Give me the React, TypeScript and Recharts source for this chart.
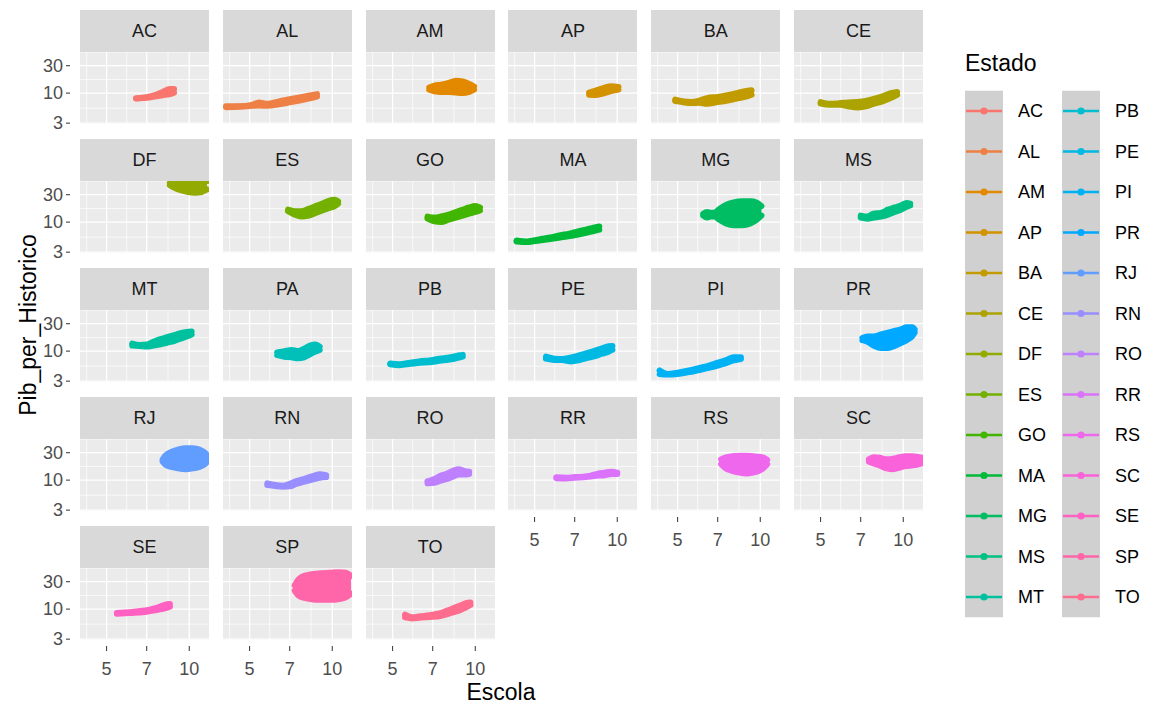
import { Area, ComposedChart, ReferenceLine, XAxis, YAxis } from "recharts";

// each point: [Escola, Pib_per_Historico lower edge, upper edge]
type Pt = [number, number, number];

const STATES = [
  "AC", "AL", "AM", "AP", "BA", "CE", "DF", "ES", "GO", "MA", "MG", "MS", "MT", "PA",
  "PB", "PE", "PI", "PR", "RJ", "RN", "RO", "RR", "RS", "SC", "SE", "SP", "TO",
];
const LEGEND_COL1 = ["AC", "AL", "AM", "AP", "BA", "CE", "DF", "ES", "GO", "MA", "MG", "MS", "MT"];
const LEGEND_COL2 = ["PB", "PE", "PI", "PR", "RJ", "RN", "RO", "RR", "RS", "SC", "SE", "SP", "TO"];

const X_TICKS = [5, 7, 10];
const Y_TICKS = [3, 10, 30];
const X_MINOR = [4.23, 5.92, 8.37];
const Y_MINOR = [5.48, 17.3, 51.9];
const X_DOMAIN: [number, number] = [4, 11.8];
const Y_DOMAIN: [number, number] = [2.9, 52];

const AC: Pt[] = [[6.4, 8.1, 8.1], [7.0, 8.3, 8.5], [7.6, 8.8, 9.4], [8.0, 9.2, 10.5], [8.5, 9.6, 11.8], [8.8, 10.2, 11.8]];
const AL: Pt[] = [[4.1, 5.7, 5.9], [4.6, 5.8, 5.9], [5.1, 6.0, 6.2], [5.4, 6.1, 6.9], [5.8, 6.0, 6.5], [6.4, 6.4, 7.2], [7.0, 6.9, 7.8], [7.6, 7.4, 8.4], [8.2, 8.0, 9.0], [8.8, 8.7, 9.6]];
const AM: Pt[] = [[6.8, 11.5, 12.5], [7.1, 10.8, 13.5], [7.5, 10.5, 14], [8.0, 10.5, 15], [8.5, 10.2, 16.5], [9.0, 10.0, 16], [9.5, 10.5, 14.5], [9.9, 11.5, 13]];
const AP: Pt[] = [[7.9, 9.4, 10.2], [8.4, 9.3, 11.2], [9.0, 10.0, 12.5], [9.5, 10.8, 13.2], [10.1, 11.5, 12.8]];
const BA: Pt[] = [[4.9, 7.3, 7.7], [5.2, 7.0, 7.2], [5.6, 6.7, 7.0], [6.0, 6.8, 7.4], [6.4, 6.5, 8.2], [7.0, 7.0, 8.6], [7.6, 7.4, 9.2], [8.2, 8.0, 10.0], [8.8, 8.6, 10.8], [9.3, 9.4, 11.2]];
const CE: Pt[] = [[5.0, 6.6, 7.0], [5.4, 6.3, 6.5], [5.9, 6.3, 6.7], [6.3, 5.9, 6.9], [6.8, 5.6, 7.0], [7.3, 5.9, 7.3], [7.8, 6.5, 7.9], [8.4, 7.2, 8.8], [9.0, 8.2, 10.0], [9.5, 9.3, 10.5]];
const DF: Pt[] = [[8.5, 44, 48], [8.8, 40, 52], [9.3, 36, 54], [9.9, 33.5, 54], [10.5, 32.5, 54], [11.1, 33.5, 54], [11.6, 37, 52]];
const ES: Pt[] = [[6.9, 15.5, 16.5], [7.3, 13.5, 15.5], [7.7, 12.5, 15.5], [8.2, 13.0, 17.0], [8.7, 14.5, 19.0], [9.2, 16.0, 21.0], [9.7, 17.5, 23.5], [10.2, 19.0, 24.5], [10.5, 21.0, 23.0]];
const GO: Pt[] = [[6.7, 11.5, 12.5], [7.1, 10.3, 12.0], [7.5, 10.0, 12.5], [8.0, 11.0, 13.5], [8.5, 12.0, 15.0], [9.0, 13.0, 16.5], [9.5, 14.0, 18.0], [10.0, 15.0, 19.0], [10.4, 16.0, 18.0]];
const MA: Pt[] = [[4.3, 4.6, 4.8], [4.7, 4.5, 4.6], [5.2, 4.8, 5.0], [5.7, 5.1, 5.4], [6.2, 5.4, 5.9], [6.7, 5.7, 6.3], [7.2, 6.1, 6.9], [7.7, 6.5, 7.4], [8.2, 7.0, 8.0], [8.6, 7.4, 8.4]];
const MG: Pt[] = [[6.2, 13, 14], [6.4, 12, 15], [6.6, 12.5, 14.5], [6.8, 12.5, 14.5], [7.1, 11, 17], [7.5, 9.5, 20], [8.0, 8.8, 22], [8.6, 8.8, 23], [9.2, 9.5, 23], [9.7, 11, 22], [10.1, 13, 19]];
const MS: Pt[] = [[7.0, 12.0, 13.0], [7.4, 11.5, 12.5], [7.8, 12.0, 14.0], [8.3, 12.5, 14.5], [8.8, 13.5, 16.5], [9.3, 15.0, 18.0], [9.8, 16.5, 19.5], [10.3, 18.5, 21.5], [10.6, 19.5, 21.0]];
const MT: Pt[] = [[6.2, 12.5, 13.5], [6.6, 12.3, 12.8], [7.0, 12.0, 13.0], [7.4, 12.5, 14.5], [7.8, 13.0, 16.0], [8.3, 14.0, 17.5], [8.8, 15.0, 19.0], [9.3, 16.5, 20.5], [9.8, 18.0, 21.5], [10.2, 19.5, 22.0]];
const PA: Pt[] = [[6.3, 8.5, 9.5], [6.7, 8.0, 10.0], [7.1, 7.8, 10.5], [7.5, 7.5, 10.0], [7.9, 7.8, 11.0], [8.3, 8.8, 12.5], [8.7, 9.8, 13.0], [9.0, 10.5, 12.0]];
const PB: Pt[] = [[4.9, 5.9, 6.1], [5.3, 5.7, 5.9], [5.8, 6.0, 6.3], [6.3, 6.3, 6.7], [6.8, 6.4, 6.9], [7.3, 6.7, 7.3], [7.8, 7.0, 7.6], [8.3, 7.3, 8.0], [8.8, 7.8, 8.5], [9.0, 8.0, 8.6]];
const PE: Pt[] = [[5.5, 7.4, 8.0], [5.9, 7.0, 7.4], [6.3, 7.0, 7.3], [6.8, 6.6, 7.8], [7.3, 7.0, 8.5], [7.8, 7.6, 9.3], [8.3, 8.2, 10.2], [8.8, 9.0, 11.2], [9.3, 9.8, 12.2], [9.6, 10.5, 12.3]];
const PI: Pt[] = [[4.3, 4.0, 4.6], [4.6, 3.9, 4.0], [5.0, 4.0, 4.2], [5.5, 4.3, 4.6], [6.0, 4.7, 5.1], [6.5, 5.1, 5.6], [7.0, 5.6, 6.3], [7.5, 6.2, 7.0], [8.0, 6.9, 7.8], [8.5, 7.3, 7.8]];
const PR: Pt[] = [[7.1, 15.5, 17], [7.4, 14.5, 18], [7.8, 12.5, 18], [8.3, 11.3, 19.5], [8.8, 11.3, 21], [9.3, 12.3, 22.5], [9.8, 13.8, 24], [10.3, 15.5, 26], [10.8, 18.5, 26], [11.0, 21, 24]];
const RJ: Pt[] = [[8.0, 21, 23], [8.2, 18.5, 27], [8.6, 17, 31], [9.1, 16, 34], [9.7, 15.5, 36], [10.3, 16, 36], [10.9, 17, 34], [11.4, 19, 30], [11.7, 21.5, 26]];
const RN: Pt[] = [[5.8, 8.2, 8.8], [6.2, 7.9, 8.2], [6.6, 7.7, 8.0], [7.0, 7.8, 8.6], [7.4, 8.6, 9.6], [7.8, 9.2, 10.3], [8.2, 9.8, 11.2], [8.6, 10.4, 12.0], [9.0, 11.0, 12.6], [9.5, 11.3, 12.2]];
const RO: Pt[] = [[6.7, 8.8, 9.5], [7.1, 9.0, 10.5], [7.5, 9.8, 12.0], [7.9, 10.5, 13.0], [8.3, 11.5, 14.5], [8.7, 12.5, 15.5], [9.1, 12.5, 14.5], [9.5, 12.8, 14.0]];
const RR: Pt[] = [[6.0, 10.8, 11.2], [6.5, 10.7, 11.0], [7.0, 11.0, 11.3], [7.5, 11.2, 11.5], [8.0, 11.5, 12.0], [8.5, 12.0, 13.0], [9.0, 12.2, 13.5], [9.5, 12.8, 14.0], [10.0, 12.8, 13.5]];
const RS: Pt[] = [[7.2, 19, 23], [7.5, 16, 25], [7.9, 14.5, 26], [8.4, 13.5, 26.5], [8.9, 13, 26.5], [9.4, 13.5, 26], [9.9, 14.5, 25.5], [10.3, 16.5, 24.5], [10.6, 19, 22.5]];
const SC: Pt[] = [[7.5, 21, 23], [7.8, 19.5, 25], [8.2, 18, 24.5], [8.7, 16, 23], [9.2, 15.5, 23.5], [9.7, 16.5, 25], [10.2, 17.5, 26], [10.7, 18, 26], [11.2, 18.5, 25.5], [11.7, 19.5, 24.5]];
const SE: Pt[] = [[5.45, 8.3, 8.6], [5.8, 8.5, 8.7], [6.2, 8.6, 8.9], [6.6, 8.7, 9.3], [7.0, 9.0, 9.6], [7.4, 9.4, 10.2], [7.8, 9.9, 11.0], [8.2, 10.4, 12.0], [8.5, 11.0, 12.3]];
const SP: Pt[] = [[7.3, 21, 26], [7.5, 17.5, 32], [7.8, 16, 37], [8.3, 15, 40], [9.0, 14.5, 42], [9.8, 14.5, 43], [10.6, 15, 44], [11.2, 16, 43], [11.7, 18.5, 38]];
const TO: Pt[] = [[5.55, 7.2, 8.0], [5.9, 6.9, 7.2], [6.3, 7.1, 7.5], [6.8, 7.3, 7.8], [7.3, 7.4, 8.3], [7.8, 8.0, 9.2], [8.3, 8.8, 10.3], [8.8, 9.6, 11.5], [9.3, 10.8, 12.8], [9.6, 11.8, 13.0]];

const SERIES: Record<string, Pt[]> = {
  AC, AL, AM, AP, BA, CE, DF, ES, GO, MA, MG, MS, MT, PA,
  PB, PE, PI, PR, RJ, RN, RO, RR, RS, SC, SE, SP, TO,
};

const FONT = "'Liberation Sans', Arial, sans-serif";
const PANEL_X0 = 80;
const PITCH_X = 142.8;
const PANEL_W = 129;
const PANEL_Y0 = 10;
const PITCH_Y = 129;
const STRIP_H = 42;
const PLOT_H = 72;

// ggplot2 default hue palette (hcl, c = 100, l = 65)
function hcl(h: number, c = 100, l = 65) {
  const hr = (h * Math.PI) / 180;
  const u = c * Math.cos(hr);
  const v = c * Math.sin(hr);
  const Xn = 95.047, Yn = 100, Zn = 108.883;
  const d = Xn + 15 * Yn + 3 * Zn;
  const un = (4 * Xn) / d;
  const vn = (9 * Yn) / d;
  const Y = Yn * Math.pow((l + 16) / 116, 3);
  const up = u / (13 * l) + un;
  const vp = v / (13 * l) + vn;
  const X = (Y * 9 * up) / (4 * vp);
  const Z = (Y * (12 - 3 * up - 20 * vp)) / (4 * vp);
  const x = X / 100, y = Y / 100, z = Z / 100;
  const lin = [
    3.240479 * x - 1.53715 * y - 0.498535 * z,
    -0.969256 * x + 1.875992 * y + 0.041556 * z,
    0.055648 * x - 0.204043 * y + 1.057311 * z,
  ];
  const hex = lin
    .map((c0) => {
      const g = c0 <= 0.0031308 ? 12.92 * c0 : 1.055 * Math.pow(c0, 1 / 2.4) - 0.055;
      const n = Math.round(Math.min(1, Math.max(0, g)) * 255);
      return n.toString(16).padStart(2, "0");
    })
    .join("");
  return `#${hex}`;
}

const COLORS = STATES.map((_, i) => hcl(15 + (360 * i) / STATES.length));
const colorOf = (s: string) => COLORS[STATES.indexOf(s)];

const YTick = (p: any) => (
  <g>
    <line x1={p.x - 14} x2={p.x - 10} y1={p.y} y2={p.y} stroke="#333333" strokeWidth={1} />
    <text x={p.x - 17} y={p.y} textAnchor="end" dominantBaseline="central" fontSize={18} fill="#4D4D4D" fontFamily={FONT}>
      {p.payload.value}
    </text>
  </g>
);

const XTick = (p: any) => (
  <g>
    <line x1={p.x} x2={p.x} y1={p.y + 6} y2={p.y + 11} stroke="#333333" strokeWidth={1} />
    <text x={p.x} y={p.y + 29} textAnchor="middle" dominantBaseline="central" fontSize={18} fill="#4D4D4D" fontFamily={FONT}>
      {p.payload.value}
    </text>
  </g>
);

// one layer of a facet: "grid" draws the panel grid, "data" the state's band and the axis ticks
function Layer({
  layer, data, color, showX, showY,
}: {
  layer: "grid" | "data";
  data: { x: number; band: number[] }[];
  color: string;
  showX: boolean;
  showY: boolean;
}) {
  const yw = showY ? 50 : 0;
  const xh = showX ? 42 : 0;
  const pad = showY && !showX ? 12 : 0;
  const isData = layer === "data";
  return (
    <ComposedChart
      width={PANEL_W + yw}
      height={PLOT_H + xh + pad}
      data={data}
      margin={{ top: 0, right: 0, bottom: pad, left: 0 }}
    >
      <XAxis
        type="number"
        dataKey="x"
        scale="log"
        domain={X_DOMAIN}
        ticks={X_TICKS}
        interval={0}
        allowDataOverflow
        hide={!showX}
        height={xh}
        axisLine={false}
        tickLine={false}
        tickSize={0}
        tickMargin={0}
        tick={isData ? XTick : false}
      />
      <YAxis
        type="number"
        scale="log"
        domain={Y_DOMAIN}
        ticks={Y_TICKS}
        interval={0}
        allowDataOverflow
        hide={!showY}
        width={yw}
        axisLine={false}
        tickLine={false}
        tickSize={0}
        tickMargin={0}
        tick={isData ? YTick : false}
      />
      {!isData &&
        X_MINOR.map((v) => <ReferenceLine key={`xm${v}`} x={v} stroke="#FFFFFF" strokeWidth={0.7} />)}
      {!isData &&
        Y_MINOR.map((v) => <ReferenceLine key={`ym${v}`} y={v} stroke="#FFFFFF" strokeWidth={0.7} />)}
      {!isData &&
        X_TICKS.map((v) => <ReferenceLine key={`x${v}`} x={v} stroke="#FFFFFF" strokeWidth={1.3} />)}
      {!isData &&
        Y_TICKS.map((v) => <ReferenceLine key={`y${v}`} y={v} stroke="#FFFFFF" strokeWidth={1.3} />)}
      <Area
        type="monotone"
        dataKey="band"
        stroke={isData ? color : "none"}
        strokeWidth={6}
        strokeLinecap="round"
        strokeLinejoin="round"
        fill={isData ? color : "none"}
        fillOpacity={1}
        dot={false}
        activeDot={false}
        isAnimationActive={false}
      />
    </ComposedChart>
  );
}

function Facet({ state, index }: { state: string; index: number }) {
  const col = index % 6;
  const row = Math.floor(index / 6);
  const showY = col === 0;
  const showX = row === 4 || (row === 3 && col >= 3);
  const left = PANEL_X0 + col * PITCH_X;
  const top = PANEL_Y0 + row * PITCH_Y;
  const yw = showY ? 50 : 0;
  const color = colorOf(state);
  const data = SERIES[state].map(([x, lo, hi]) => ({ x, band: [lo, hi] }));

  return (
    <>
      <div
        style={{
          position: "absolute",
          left,
          top,
          width: PANEL_W,
          height: STRIP_H,
          background: "#D9D9D9",
          display: "flex",
          alignItems: "center",
          justifyContent: "center",
          fontSize: 18,
          color: "#1A1A1A",
        }}
      >
        {state}
      </div>
      <div
        style={{
          position: "absolute",
          left,
          top: top + STRIP_H,
          width: PANEL_W,
          height: PLOT_H,
          background: "#EBEBEB",
        }}
      />
      <div style={{ position: "absolute", left: left - yw, top: top + STRIP_H }}>
        <Layer layer="grid" data={data} color={color} showX={showX} showY={showY} />
      </div>
      <div style={{ position: "absolute", left: left - yw, top: top + STRIP_H }}>
        <Layer layer="data" data={data} color={color} showX={showX} showY={showY} />
      </div>
    </>
  );
}

function Legend() {
  const rowH = 40.5;
  const y0 = 111;
  const cols = [
    { items: LEGEND_COL1, keyX: 965, labelX: 1018 },
    { items: LEGEND_COL2, keyX: 1062, labelX: 1115 },
  ];
  return (
    <>
      <text x={965} y={63} dominantBaseline="central" fontSize={23} fill="#000000">
        Estado
      </text>
      {cols.map((c, ci) => (
        <g key={ci}>
          <rect x={c.keyX} y={y0 - rowH / 2} width={38} height={c.items.length * rowH} fill="#D0D0D0" />
          {c.items.map((s, i) => {
            const cy = y0 + i * rowH;
            return (
              <g key={s}>
                <line x1={c.keyX + 1} x2={c.keyX + 37} y1={cy} y2={cy} stroke={colorOf(s)} strokeWidth={2.5} />
                <circle cx={c.keyX + 19} cy={cy} r={3.6} fill={colorOf(s)} />
                <text x={c.labelX} y={cy} dominantBaseline="central" fontSize={18} fill="#000000">
                  {s}
                </text>
              </g>
            );
          })}
        </g>
      ))}
    </>
  );
}

export default function App() {
  return (
    <div
      style={{
        position: "absolute",
        left: 0,
        top: 0,
        width: 1150,
        height: 707,
        background: "#FFFFFF",
        fontFamily: FONT,
        overflow: "hidden",
      }}
    >
      <svg width={1150} height={707} style={{ position: "absolute", left: 0, top: 0 }} fontFamily={FONT}>
        <text x={501} y={692} textAnchor="middle" dominantBaseline="central" fontSize={23} fill="#000000">
          Escola
        </text>
        <text
          x={0}
          y={0}
          transform="translate(28,325) rotate(-90)"
          textAnchor="middle"
          dominantBaseline="central"
          fontSize={23}
          fill="#000000"
        >
          Pib_per_Historico
        </text>
        <Legend />
      </svg>
      {STATES.map((s, i) => (
        <Facet key={s} state={s} index={i} />
      ))}
    </div>
  );
}
